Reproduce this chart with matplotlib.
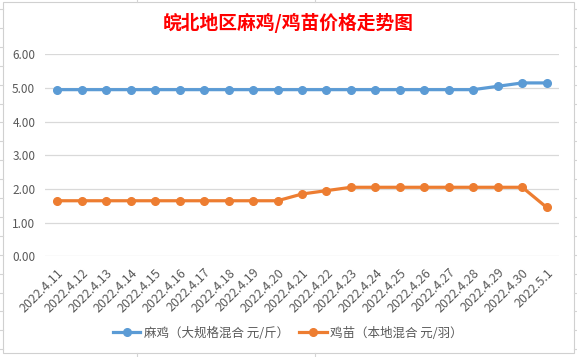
import matplotlib
matplotlib.use("Agg")
import matplotlib.pyplot as plt
from matplotlib.lines import Line2D
from matplotlib.patches import Rectangle

plt.rcParams['font.family'] = ['Noto Sans CJK SC', 'DejaVu Sans']

dates = ["2022.4.11", "2022.4.12", "2022.4.13", "2022.4.14", "2022.4.15", "2022.4.16",
         "2022.4.17", "2022.4.18", "2022.4.19", "2022.4.20", "2022.4.21", "2022.4.22",
         "2022.4.23", "2022.4.24", "2022.4.25", "2022.4.26", "2022.4.27", "2022.4.28",
         "2022.4.29", "2022.4.30", "2022.5.1"]
maji = [4.95, 4.95, 4.95, 4.95, 4.95, 4.95, 4.95, 4.95, 4.95, 4.95, 4.95, 4.95,
        4.95, 4.95, 4.95, 4.95, 4.95, 4.95, 5.05, 5.15, 5.15]
jimiao = [1.65, 1.65, 1.65, 1.65, 1.65, 1.65, 1.65, 1.65, 1.65, 1.65, 1.85, 1.95,
          2.05, 2.05, 2.05, 2.05, 2.05, 2.05, 2.05, 2.05, 1.45]
yticks = [0, 1, 2, 3, 4, 5, 6]
series_names = ["麻鸡（大规格混合 元/斤）", "鸡苗（本地混合 元/羽）"]
title = "皖北地区麻鸡/鸡苗价格走势图"

W, H = 577, 357
fig = plt.figure(figsize=(W / 100, H / 100), dpi=100)
fig.patch.set_facecolor('white')

# spreadsheet cell lines around the chart
grid_c = '#D4D4D4'
for k in range(19):
    y = 9 + 18.9 * k
    fig.add_artist(Line2D([0, 3 / W], [1 - y / H, 1 - y / H], color=grid_c, lw=0.8))
    fig.add_artist(Line2D([574 / W, 1], [1 - y / H, 1 - y / H], color=grid_c, lw=0.8))
for x in (137, 315):
    fig.add_artist(Line2D([x / W, x / W], [1, 1 - 2 / H], color=grid_c, lw=0.8))
    fig.add_artist(Line2D([x / W, x / W], [0, 4 / H], color=grid_c, lw=0.8))
fig.add_artist(Rectangle((3 / W, 4 / H), 571 / W, 351 / H, transform=fig.transFigure,
                         fill=False, edgecolor='#D0D0D0', lw=0.8))

left, right = 45 / W, 559 / W
top, bottom = 1 - 54.3 / H, 1 - 256.3 / H
ax = fig.add_axes([left, bottom, right - left, top - bottom])
ax.set_facecolor('none')

x = list(range(len(dates)))
ax.plot(x, maji, color='#5B9BD5', lw=2.3, marker='o', markersize=5.5,
        label=series_names[0], zorder=3)
ax.plot(x, jimiao, color='#ED7D31', lw=2.3, marker='o', markersize=5.5,
        label=series_names[1], zorder=3)

ax.set_xlim(-0.5, len(dates) - 0.5)
ax.set_ylim(0, 6)
ax.set_yticks(yticks)
ax.set_yticklabels([f"{v:.2f}" for v in yticks], fontsize=8.5, color='#595959')
ax.yaxis.grid(True, color='#D9D9D9', lw=0.9)
ax.set_axisbelow(True)
ax.set_xticks(x)
ax.set_xticklabels(dates, rotation=45, ha='right', va='top', rotation_mode='anchor',
                   fontsize=9, color='#595959')
ax.tick_params(axis='both', length=0)
ax.tick_params(axis='y', pad=7)
ax.tick_params(axis='x', pad=7)
for s in ax.spines.values():
    s.set_visible(False)

fig.text(288 / W, 1 - 23 / H, title, color='red', fontsize=13.5, fontweight='bold',
         ha='center', va='center')

leg = fig.legend(loc='center', bbox_to_anchor=(288 / W, 1 - 333 / H), ncol=2,
                 frameon=False, fontsize=9, handlelength=2.2, columnspacing=0.8,
                 handletextpad=0.3, labelcolor='#595959')

fig.savefig('out.png', dpi=100, facecolor='white')
